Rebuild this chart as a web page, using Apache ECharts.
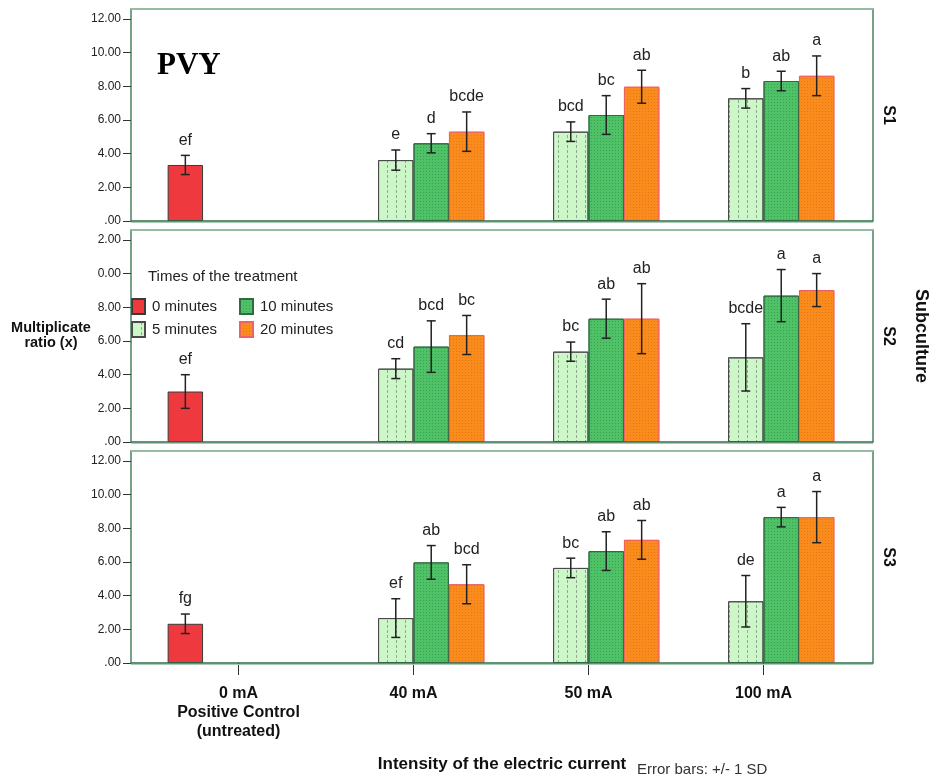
<!DOCTYPE html>
<html>
<head>
<meta charset="utf-8">
<script src="https://cdn.jsdelivr.net/npm/echarts@6/dist/echarts.min.js"></script>
<style>
html,body{margin:0;padding:0;background:#fff;}
#chart{width:931px;height:779px;}
</style>
</head>
<body>
<div id="chart"></div>
<script>
// ---------------- data ----------------
var categories = ['0 mA\nPositive Control\n(untreated)', '40 mA', '50 mA', '100 mA'];
var timeNames = ['0 minutes', '5 minutes', '10 minutes', '20 minutes'];
var panelNames = ['S1', 'S2', 'S3'];

// S1
var s1Mean0  = [3.33, null, null, null];
var s1Sd0    = [0.57, null, null, null];
var s1Let0   = ['ef', '', '', ''];
var s1Mean5  = [null, 3.62, 5.31, 7.29];
var s1Sd5    = [null, 0.60, 0.58, 0.58];
var s1Let5   = ['', 'e', 'bcd', 'b'];
var s1Mean10 = [null, 4.62, 6.30, 8.32];
var s1Sd10   = [null, 0.57, 1.15, 0.58];
var s1Let10  = ['', 'd', 'bc', 'ab'];
var s1Mean20 = [null, 5.31, 7.98, 8.63];
var s1Sd20   = [null, 1.17, 0.98, 1.18];
var s1Let20  = ['', 'bcde', 'ab', 'a'];

// S2
var s2Mean0  = [3.00, null, null, null];
var s2Sd0    = [1.00, null, null, null];
var s2Let0   = ['ef', '', '', ''];
var s2Mean5  = [null, 4.36, 5.37, 5.03];
var s2Sd5    = [null, 0.59, 0.57, 2.00];
var s2Let5   = ['', 'cd', 'bc', 'bcde'];
var s2Mean10 = [null, 5.67, 7.33, 8.70];
var s2Sd10   = [null, 1.53, 1.16, 1.55];
var s2Let10  = ['', 'bcd', 'ab', 'a'];
var s2Mean20 = [null, 6.36, 7.33, 9.03];
var s2Sd20   = [null, 1.16, 2.08, 0.98];
var s2Let20  = ['', 'bc', 'ab', 'a'];

// S3
var s3Mean0  = [2.33, null, null, null];
var s3Sd0    = [0.58, null, null, null];
var s3Let0   = ['fg', '', '', ''];
var s3Mean5  = [null, 2.67, 5.65, 3.67];
var s3Sd5    = [null, 1.15, 0.58, 1.53];
var s3Let5   = ['', 'ef', 'bc', 'de'];
var s3Mean10 = [null, 5.98, 6.65, 8.67];
var s3Sd10   = [null, 1.00, 1.15, 0.58];
var s3Let10  = ['', 'ab', 'ab', 'a'];
var s3Mean20 = [null, 4.68, 7.32, 8.67];
var s3Sd20   = [null, 1.16, 1.15, 1.52];
var s3Let20  = ['', 'bcd', 'ab', 'a'];

// y tick labels (as printed in the original, panel 2 is clipped)
var yTickValues = [0, 2, 4, 6, 8, 10, 12];
var yTicksS1 = ['.00', '2.00', '4.00', '6.00', '8.00', '10.00', '12.00'];
var yTicksS2 = ['.00', '2.00', '4.00', '6.00', '8.00', '0.00', '2.00'];
var yTicksS3 = ['.00', '2.00', '4.00', '6.00', '8.00', '10.00', '12.00'];

// ---------------- build ----------------
var panels = [
  {means: [s1Mean0, s1Mean5, s1Mean10, s1Mean20], sds: [s1Sd0, s1Sd5, s1Sd10, s1Sd20], lets: [s1Let0, s1Let5, s1Let10, s1Let20], ticks: yTicksS1},
  {means: [s2Mean0, s2Mean5, s2Mean10, s2Mean20], sds: [s2Sd0, s2Sd5, s2Sd10, s2Sd20], lets: [s2Let0, s2Let5, s2Let10, s2Let20], ticks: yTicksS2},
  {means: [s3Mean0, s3Mean5, s3Mean10, s3Mean20], sds: [s3Sd0, s3Sd5, s3Sd10, s3Sd20], lets: [s3Let0, s3Let5, s3Let10, s3Let20], ticks: yTicksS3}
];

var FONT = "'Liberation Sans', Arial, sans-serif";
var frameLeft = 131, frameRight = 873;
var gridLeft = 151, gridWidth = 700;
var panelTops = [9, 230, 451];
var panelH = 212;
var yMax = 12.6;
var catGap = 0.19;

var styles = [
  {color: '#ee3a3f', borderColor: '#3a3a3a', borderWidth: 1},
  {color: '#cdf7c9', borderColor: '#4a4a4a', borderWidth: 1,
   decal: {symbol: 'rect', symbolSize: 1, color: 'rgba(90,110,90,0.55)', dashArrayX: [1, 8], dashArrayY: [3, 2]}},
  {color: '#4fc166', borderColor: '#2f6a42', borderWidth: 1,
   decal: {symbol: 'rect', symbolSize: 1, color: 'rgba(30,110,55,0.4)', dashArrayX: [1, 2], dashArrayY: [1, 2]}},
  {color: '#f98c1c', borderColor: '#f06262', borderWidth: 1,
   decal: {symbol: 'rect', symbolSize: 1, color: 'rgba(210,90,10,0.4)', dashArrayX: [1, 2], dashArrayY: [1, 2]}}
];

var grids = [], xAxes = [], yAxes = [], series = [], graphics = [];

panels.forEach(function (p, pi) {
  grids.push({left: gridLeft, width: gridWidth, top: panelTops[pi], height: panelH, containLabel: false});
  var isLast = pi === panels.length - 1;
  xAxes.push({
    type: 'category', gridIndex: pi, data: categories,
    axisLine: {show: false},
    axisTick: {show: isLast, alignWithLabel: true, length: 12, lineStyle: {color: '#333', width: 1}},
    axisLabel: {show: isLast, margin: 21, color: '#111', fontFamily: FONT, fontWeight: 'bold', fontSize: 16, lineHeight: 19},
    splitLine: {show: false}
  });
  var tickLabels = p.ticks;
  yAxes.push({
    type: 'value', gridIndex: pi, min: 0, max: yMax, offset: gridLeft - frameLeft,
    axisLine: {show: false},
    axisTick: {show: true, length: 8, customValues: yTickValues, lineStyle: {color: '#333'}},
    axisLabel: {margin: 10, color: '#222', fontFamily: FONT, fontSize: 12, customValues: yTickValues,
      formatter: function (v) { var i = yTickValues.indexOf(Math.round(v)); return i >= 0 ? tickLabels[i] : ''; }},
    splitLine: {show: false}
  });
  for (var s = 0; s < 4; s++) {
    series.push({
      type: 'bar', name: timeNames[s], xAxisIndex: pi, yAxisIndex: pi,
      data: p.means[s], barGap: '0%', barCategoryGap: (catGap * 100) + '%',
      itemStyle: styles[s], emphasis: {disabled: true}, silent: true
    });
  }
  // error bars + letters
  var ebData = [];
  for (var s2 = 0; s2 < 4; s2++) {
    for (var c = 0; c < categories.length; c++) {
      if (p.means[s2][c] != null) ebData.push([c, p.means[s2][c], p.sds[s2][c], s2, p.lets[s2][c]]);
    }
  }
  series.push({
    type: 'custom', xAxisIndex: pi, yAxisIndex: pi, silent: true, z: 5,
    data: ebData,
    renderItem: function (params, api) {
      var cat = api.value(0), m = api.value(1), sd = api.value(2), si = api.value(3);
      var letter = ebData[params.dataIndex][4];
      var band = api.size([1, 0])[0];
      var bw = band * (1 - catGap) / 4;
      var cx = api.coord([cat, m])[0] + (si - 1.5) * bw;
      var yT = api.coord([cat, m + sd])[1];
      var yB = api.coord([cat, m - sd])[1];
      var cap = 4.5;
      var ls = {stroke: '#222', lineWidth: 1.5};
      return {
        type: 'group',
        children: [
          {type: 'line', shape: {x1: cx, y1: yT, x2: cx, y2: yB}, style: ls},
          {type: 'line', shape: {x1: cx - cap, y1: yT, x2: cx + cap, y2: yT}, style: ls},
          {type: 'line', shape: {x1: cx - cap, y1: yB, x2: cx + cap, y2: yB}, style: ls},
          {type: 'text', style: {text: letter, x: cx, y: yT - 7, align: 'center', verticalAlign: 'bottom',
            fill: '#222', font: '16px ' + FONT}}
        ]
      };
    }
  });
  // panel frame
  var top = panelTops[pi], bot = panelTops[pi] + panelH;
  graphics.push({type: 'rect', z: 10, silent: true,
    shape: {x: frameLeft, y: top, width: frameRight - frameLeft, height: panelH},
    style: {fill: null, stroke: '#2f6e48', lineWidth: 1.3}});
  graphics.push({type: 'line', z: 11, silent: true,
    shape: {x1: frameLeft, y1: top, x2: frameRight, y2: top},
    style: {stroke: '#94bca0', lineWidth: 2}});
  graphics.push({type: 'line', z: 11, silent: true,
    shape: {x1: frameLeft, y1: bot + 1.5, x2: frameRight, y2: bot + 1.5},
    style: {stroke: '#a9cab3', lineWidth: 1}});
  // panel name S1/S2/S3
  graphics.push({type: 'text', silent: true, x: 888, y: top + 106, rotation: -Math.PI / 2,
    style: {text: panelNames[pi], align: 'center', verticalAlign: 'middle', fill: '#111',
      font: 'bold 16px ' + FONT}});
});

// other texts
graphics.push({type: 'text', silent: true, x: 157, y: 66,
  style: {text: 'PVY', verticalAlign: 'middle', fill: '#000', font: "bold 31px 'Liberation Serif', 'Times New Roman', serif"}});
graphics.push({type: 'text', silent: true, x: 921, y: 336, rotation: -Math.PI / 2,
  style: {text: 'Subculture', align: 'center', verticalAlign: 'middle', fill: '#111', font: 'bold 18px ' + FONT}});
graphics.push({type: 'text', silent: true, x: 51, y: 335,
  style: {text: 'Multiplicate\nratio (x)', align: 'center', verticalAlign: 'middle', lineHeight: 15, fill: '#111', font: 'bold 14.5px ' + FONT}});
graphics.push({type: 'text', silent: true, x: 148, y: 277,
  style: {text: 'Times of the treatment', verticalAlign: 'middle', fill: '#222', font: '15px ' + FONT}});
graphics.push({type: 'text', silent: true, x: 502, y: 764,
  style: {text: 'Intensity of the electric current', align: 'center', verticalAlign: 'middle', fill: '#111', font: 'bold 17px ' + FONT}});
graphics.push({type: 'text', silent: true, x: 637, y: 770,
  style: {text: 'Error bars: +/- 1 SD', verticalAlign: 'middle', fill: '#333', font: '15px ' + FONT}});

var legendBase = {
  orient: 'vertical', itemWidth: 13, itemHeight: 15, itemGap: 6, icon: 'rect',
  selectedMode: false, padding: 0,
  textStyle: {fontFamily: FONT, fontSize: 15, color: '#222', padding: [0, 0, 0, 2]}
};
var legends = [
  Object.assign({}, legendBase, {left: 131, top: 298, data: [timeNames[0], timeNames[1]]}),
  Object.assign({}, legendBase, {left: 239, top: 298, data: [timeNames[2], timeNames[3]]})
];

var chart = echarts.init(document.getElementById('chart'), null, {renderer: 'canvas'});
chart.setOption({
  animation: false,
  backgroundColor: '#ffffff',
  grid: grids,
  xAxis: xAxes,
  yAxis: yAxes,
  legend: legends,
  series: series,
  graphic: {elements: graphics}
});
</script>
</body>
</html>
